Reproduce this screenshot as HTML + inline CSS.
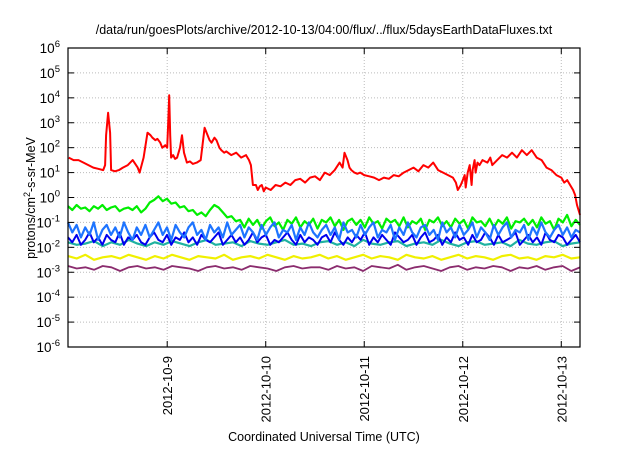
<!DOCTYPE html>
<html><head><meta charset="utf-8"><style>
body{margin:0;background:#fff;width:640px;height:448px;overflow:hidden}
svg{font-family:"Liberation Sans",sans-serif}
</style></head><body>
<svg id="chart" width="640" height="448">
<text x="324" y="34" text-anchor="middle" font-size="12.5">/data/run/goesPlots/archive/2012-10-13/04:00/flux/../flux/5daysEarthDataFluxes.txt</text>
<text x="324" y="441" text-anchor="middle" font-size="12.5">Coordinated Universal Time (UTC)</text>
<text transform="translate(35,198) rotate(-90)" text-anchor="middle" font-size="12.5">protons/cm<tspan dy="-5" font-size="9">2</tspan><tspan dy="5">-s-sr-MeV</tspan></text>
<g id="grid"></g><g id="series"></g><g id="axes"></g>
</svg>
<script>
const xTickLabels=["2012-10-9","2012-10-10","2012-10-11","2012-10-12","2012-10-13"];
const xTickDays=[1,2,3,4,5];
const yTickExps=[-6,-5,-4,-3,-2,-1,0,1,2,3,4,5,6];
const redT=[0,0.05,0.1,0.15,0.2,0.25,0.3,0.35,0.37,0.38,0.4,0.42,0.43,0.47,0.51,0.55,0.6,0.65,0.7,0.72,0.76,0.8,0.83,0.85,0.88,0.9,0.93,0.95,0.98,1.0,1.01,1.02,1.03,1.04,1.06,1.08,1.1,1.13,1.15,1.17,1.2,1.23,1.26,1.3,1.34,1.38,1.4,1.43,1.45,1.48,1.5,1.53,1.55,1.58,1.6,1.65,1.7,1.75,1.8,1.83,1.85,1.87,1.9,1.92,1.94,1.96,1.98,2.0,2.05,2.1,2.15,2.2,2.25,2.3,2.35,2.4,2.45,2.5,2.55,2.6,2.65,2.7,2.75,2.78,2.8,2.83,2.85,2.87,2.9,2.93,2.96,3.0,3.05,3.1,3.15,3.2,3.25,3.3,3.35,3.4,3.45,3.5,3.55,3.6,3.65,3.7,3.75,3.8,3.85,3.9,3.93,3.95,3.98,4.0,4.02,4.03,4.05,4.07,4.09,4.1,4.12,4.13,4.15,4.17,4.2,4.25,4.28,4.3,4.35,4.4,4.45,4.5,4.55,4.6,4.65,4.7,4.75,4.8,4.85,4.9,4.95,5.0,5.03,5.06,5.09,5.12,5.14,5.16,5.19];
const redV=[1.6,1.5,1.5,1.4,1.3,1.2,1.15,1.1,1.3,2.5,3.4,2.6,1.1,1.05,1.1,1.2,1.3,1.5,1.2,1.0,1.6,2.6,2.5,2.4,2.3,2.35,2.2,2.0,2.1,2.0,3.0,4.1,2.5,1.6,1.7,1.55,1.6,2.0,2.5,1.8,1.4,1.45,1.35,1.4,1.5,2.8,2.6,2.3,2.2,2.4,2.3,2.0,1.9,1.8,1.85,1.7,1.8,1.6,1.7,1.5,1.3,0.5,0.5,0.3,0.45,0.5,0.25,0.4,0.3,0.5,0.45,0.6,0.5,0.7,0.75,0.6,0.8,0.85,0.7,1.0,0.9,1.1,1.4,1.2,1.8,1.5,1.2,1.1,1.0,0.95,1.0,0.9,0.85,0.8,0.7,0.8,0.75,0.9,0.85,1.0,1.1,1.2,1.05,1.3,1.2,1.4,1.1,1.0,0.9,0.8,0.6,0.3,0.5,0.7,0.9,0.4,1.0,1.3,0.5,1.1,1.5,1.0,1.4,1.3,1.5,1.4,1.6,1.3,1.5,1.7,1.6,1.8,1.6,1.9,1.7,1.9,1.6,1.5,1.2,1.1,0.9,0.8,0.6,0.7,0.5,0.3,0.1,-0.3,-0.7,0.1,0.4];
const greenV=[-0.35,-0.5,-0.3,-0.45,-0.4,-0.55,-0.35,-0.45,-0.3,-0.5,-0.4,-0.35,-0.55,-0.45,-0.4,-0.5,-0.35,-0.6,-0.45,-0.2,-0.1,0.05,-0.15,-0.05,-0.25,-0.2,-0.4,-0.35,-0.55,-0.5,-0.7,-0.6,-0.75,-0.5,-0.3,-0.4,-0.6,-0.8,-0.75,-0.95,-0.9,-1.2,-0.85,-1.1,-0.9,-1.25,-0.95,-0.8,-1.15,-1.0,-1.3,-0.9,-1.05,-0.8,-1.2,-0.95,-1.1,-0.85,-1.25,-0.9,-1.0,-0.8,-1.15,-0.9,-1.3,-0.95,-0.85,-1.1,-0.9,-1.2,-0.8,-1.05,-0.95,-1.25,-0.85,-1.0,-0.9,-1.15,-0.8,-1.2,-0.95,-1.05,-0.85,-1.3,-0.9,-1.0,-0.8,-1.15,-0.95,-1.2,-0.85,-1.05,-0.9,-1.25,-0.8,-1.0,-0.95,-1.15,-0.85,-1.2,-0.9,-1.05,-0.8,-1.25,-0.95,-1.0,-0.85,-1.1,-0.9,-1.2,-0.8,-1.05,-0.95,-1.3,-0.85,-1.0,-0.7,-1.15,-0.9,-1.1];
const lightBlueV=[-1.0,-1.4,-1.1,-1.6,-1.2,-1.5,-1.0,-1.7,-1.3,-1.1,-1.5,-1.2,-1.6,-1.0,-1.4,-1.7,-1.2,-1.5,-1.1,-1.6,-1.3,-1.0,-1.5,-1.2,-1.7,-1.1,-1.4,-1.6,-1.2,-1.0,-1.5,-1.3,-1.7,-1.1,-1.4,-1.2,-1.6,-1.0,-1.5,-1.3,-1.1,-1.6,-1.2,-1.4,-1.7,-1.1,-1.5,-1.2,-1.0,-1.6,-1.3,-1.4,-1.1,-1.7,-1.2,-1.5,-1.0,-1.4,-1.6,-1.3,-1.1,-1.5,-1.2,-1.7,-1.0,-1.4,-1.3,-1.6,-1.1,-1.5,-1.2,-1.0,-1.6,-1.3,-1.4,-1.1,-1.7,-1.2,-1.5,-1.0,-1.4,-1.6,-1.2,-1.1,-1.5,-1.3,-1.7,-1.0,-1.4,-1.2,-1.6,-1.1,-1.5,-1.3,-1.0,-1.6,-1.2,-1.4,-1.7,-1.1,-1.5,-1.2,-1.0,-1.6,-1.3,-1.4,-1.1,-1.7,-1.2,-1.5,-1.0,-1.4,-1.6,-1.3,-1.1,-1.5,-1.2,-1.6,-1.3,-1.4];
const blueV=[-1.6,-1.8,-1.5,-1.9,-1.7,-1.4,-1.8,-1.6,-1.9,-1.5,-1.7,-1.8,-1.4,-1.9,-1.6,-1.7,-1.5,-1.8,-1.9,-1.6,-1.4,-1.7,-1.8,-1.5,-1.9,-1.6,-1.7,-1.4,-1.8,-1.6,-1.9,-1.5,-1.7,-1.8,-1.6,-1.4,-1.9,-1.7,-1.5,-1.8,-1.6,-1.9,-1.7,-1.4,-1.8,-1.6,-1.5,-1.9,-1.7,-1.8,-1.6,-1.4,-1.7,-1.9,-1.5,-1.8,-1.6,-1.7,-1.9,-1.6,-1.5,-1.8,-1.4,-1.7,-1.9,-1.6,-1.8,-1.5,-1.7,-1.4,-1.9,-1.6,-1.8,-1.5,-1.7,-1.9,-1.4,-1.6,-1.8,-1.7,-1.5,-1.9,-1.6,-1.4,-1.8,-1.7,-1.5,-1.9,-1.6,-1.8,-1.4,-1.7,-1.6,-1.9,-1.5,-1.8,-1.7,-1.4,-1.6,-1.9,-1.5,-1.8,-1.7,-1.6,-1.4,-1.9,-1.7,-1.5,-1.8,-1.6,-1.9,-1.4,-1.7,-1.8,-1.5,-1.6,-1.9,-1.7,-1.5,-1.8];
const tealV=[-1.8,-1.9,-1.85,-1.75,-1.95,-1.8,-1.9,-1.7,-1.85,-1.95,-1.8,-1.9,-1.75,-1.85,-1.95,-1.8,-1.7,-1.9,-1.85,-1.8,-1.95,-1.75,-1.85,-1.9,-1.8,-1.7,-1.9,-1.85,-1.95,-1.8,-1.75,-1.9,-1.8,-1.95,-1.7,-1.85,-1.9,-1.8,-1.75,-1.95,-1.85,-1.8,-1.9,-1.7,-1.85,-1.95,-1.8,-1.75,-1.9,-1.85,-1.8,-1.95,-1.7,-1.85,-1.9,-1.8,-1.75,-1.95,-1.85,-1.8];
const yellowV=[-2.35,-2.45,-2.3,-2.5,-2.4,-2.35,-2.45,-2.3,-2.4,-2.5,-2.35,-2.45,-2.3,-2.4,-2.5,-2.35,-2.4,-2.45,-2.3,-2.5,-2.4,-2.35,-2.45,-2.3,-2.4,-2.5,-2.35,-2.45,-2.4,-2.3,-2.45,-2.35,-2.5,-2.4,-2.3,-2.45,-2.35,-2.4,-2.5,-2.3,-2.4,-2.45,-2.35,-2.5,-2.4,-2.3,-2.45,-2.35,-2.4,-2.5,-2.35,-2.3,-2.45,-2.4,-2.5,-2.35,-2.4,-2.3,-2.45,-2.4];
const purpleV=[-2.75,-2.85,-2.8,-2.9,-2.75,-2.8,-2.95,-2.8,-2.75,-2.85,-2.8,-2.9,-2.75,-2.8,-2.85,-2.95,-2.8,-2.75,-2.85,-2.8,-2.9,-2.75,-2.8,-2.85,-2.95,-2.8,-2.75,-2.85,-2.8,-2.8,-2.9,-2.75,-2.85,-2.8,-2.95,-2.75,-2.8,-2.85,-2.7,-2.9,-2.8,-2.75,-2.85,-2.95,-2.8,-2.75,-2.9,-2.8,-2.85,-2.75,-2.8,-2.95,-2.8,-2.85,-2.75,-2.9,-2.8,-2.75,-2.95,-2.8];

const L=68,R=580,T=48,B=347,D0=-0.007,D1=5.19;
const NS="http://www.w3.org/2000/svg";
function xs(d){return L+(d-D0)/(D1-D0)*(R-L);}
function ys(e){return B-(e+6)/12*(B-T);}
function mk(tag,attrs,parent){const el=document.createElementNS(NS,tag);for(const k in attrs)el.setAttribute(k,attrs[k]);parent.appendChild(el);return el;}
const grid=document.getElementById('grid'),axes=document.getElementById('axes'),ser=document.getElementById('series');
yTickExps.forEach(e=>{
  const y=ys(e);
  if(e>-6&&e<6){const g=mk('line',{x1:L,x2:R,y1:y,y2:y,stroke:'#bbb','stroke-dasharray':'1,2'},grid);
  
  }
  mk('line',{x1:L,x2:L+6,y1:y,y2:y,stroke:'#000'},axes);
  mk('line',{x1:R-6,x2:R,y1:y,y2:y,stroke:'#000'},axes);
  const t=mk('text',{x:L-8,y:y+5,'text-anchor':'end','font-size':'13.5'},axes);
  
  
  t.textContent='10';
  const s=mk('tspan',{dy:-6,'font-size':'9.5'},t);s.textContent=String(e);
});
xTickDays.forEach((d,i)=>{
  const x=xs(d);
  const g=mk('line',{x1:x,x2:x,y1:T,y2:B,stroke:'#bbb','stroke-dasharray':'1,2'},grid);
  
  
  mk('line',{x1:x,x2:x,y1:B,y2:B-6,stroke:'#000'},axes);
  mk('line',{x1:x,x2:x,y1:T,y2:T+6,stroke:'#000'},axes);
  const t=mk('text',{transform:`translate(${x+5},356) rotate(-90)`,'text-anchor':'end','font-size':'13'},axes);
  
  
  t.textContent=xTickLabels[i];
});
const fr=mk('rect',{x:L,y:T,width:R-L,height:B-T,fill:'none',stroke:'#000','stroke-width':1.2},axes);


function line(ts,vs,color,name,w){
  const pts=vs.map((v,i)=>xs(ts?ts[i]:D0+i*(D1-D0)/(vs.length-1)).toFixed(1)+','+ys(v).toFixed(1)).join(' ');
  const p=mk('polyline',{points:pts,fill:'none',stroke:color,'stroke-width':w,'stroke-linejoin':'round'},ser);
  
  
}
line(null,purpleV,'#8b2c6e','series-purple',1.8);
line(null,yellowV,'#f0f000','series-yellow',2.2);
line(null,greenV,'#00ee00','series-green',2.2);
line(null,tealV,'#20b2a0','series-teal',2.2);
line(null,blueV,'#0000ee','series-blue',2);
line(null,lightBlueV,'#1e74ff','series-light-blue',2.2);
line(redT,redV,'#ff0000','series-red',2);
</script>
</body></html>
